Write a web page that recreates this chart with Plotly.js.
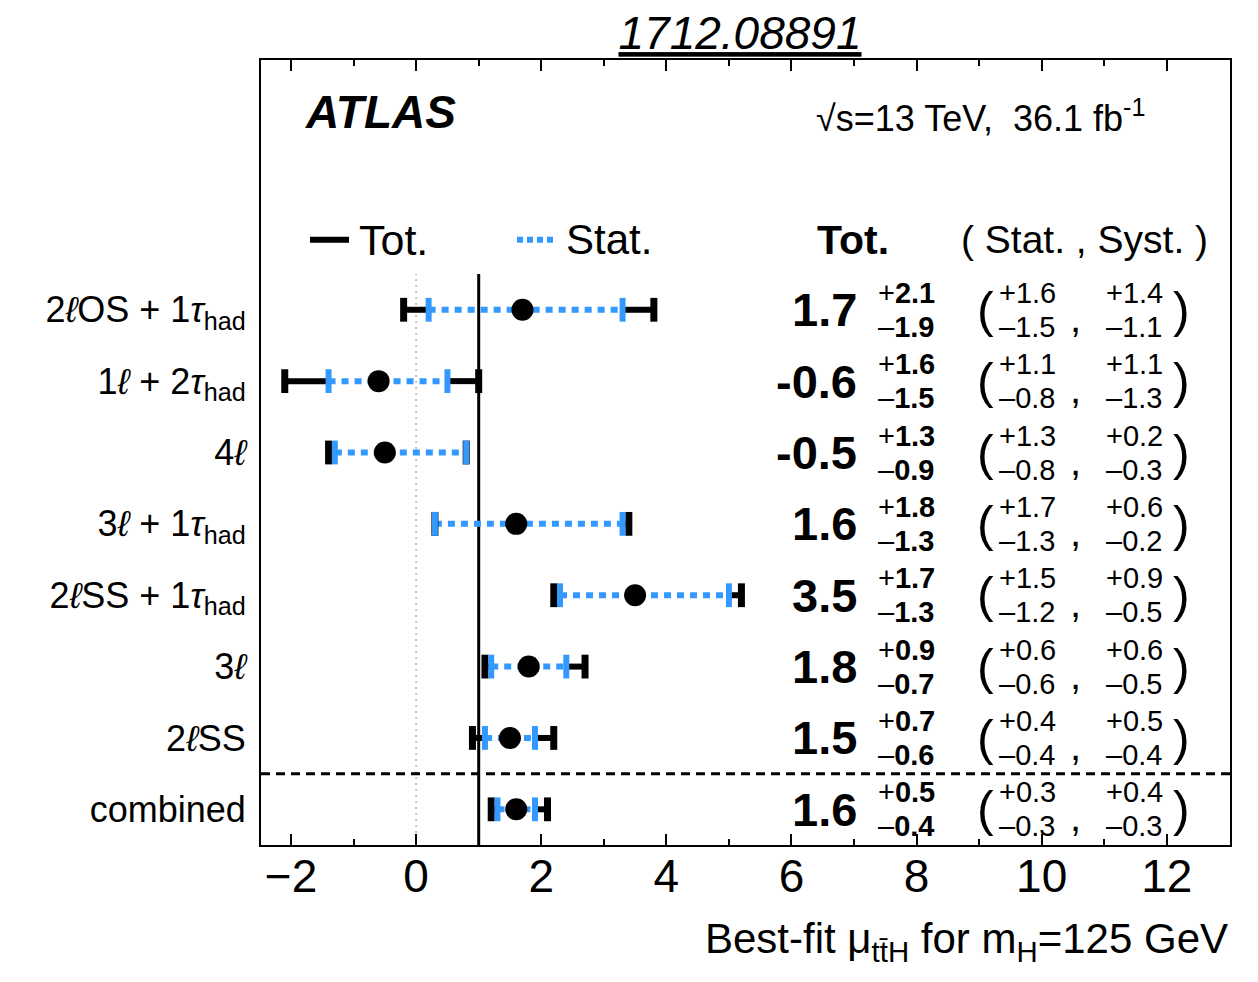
<!DOCTYPE html>
<html>
<head>
<meta charset="utf-8">
<script src="https://cdn.plot.ly/plotly-3.0.1.min.js"></script>
<style>html,body{margin:0;padding:0;background:#fff;}</style>
</head>
<body>
<div id="chart" style="width:1258px;height:982px;"></div>
<script>
const categories = ['2<i>ℓ</i>OS + 1<i>τ</i><sub>had</sub>', '1<i>ℓ</i> + 2<i>τ</i><sub>had</sub>', '4<i>ℓ</i>', '3<i>ℓ</i> + 1<i>τ</i><sub>had</sub>', '2<i>ℓ</i>SS + 1<i>τ</i><sub>had</sub>', '3<i>ℓ</i>', '2<i>ℓ</i>SS', 'combined'];
const mu     = [1.7, -0.6, -0.5, 1.6, 3.5, 1.8, 1.5, 1.6];
const totUp  = [2.1, 1.6, 1.3, 1.8, 1.7, 0.9, 0.7, 0.5];
const totDn  = [1.9, 1.5, 0.9, 1.3, 1.3, 0.7, 0.6, 0.4];
const statUp = [1.6, 1.1, 1.3, 1.7, 1.5, 0.6, 0.4, 0.3];
const statDn = [1.5, 0.8, 0.8, 1.3, 1.2, 0.6, 0.4, 0.3];
const systUp = [1.4, 1.1, 0.2, 0.6, 0.9, 0.6, 0.5, 0.4];
const systDn = [1.1, 1.3, 0.3, 0.2, 0.5, 0.5, 0.4, 0.3];
const xTickVals = [-2, 0, 2, 4, 6, 8, 10, 12];
const smValue = 1;

const BLUE = '#3399ff';
const FONT = 'Liberation Sans, Arial, Helvetica, sans-serif';
const n = categories.length;
const rowY = categories.map((c, i) => n - 1 - i);

// Total error segments (outside stat range)
const totX = [], totY = [], statX = [], statY = [];
const totCapX = [], totCapY = [], statCapX = [], statCapY = [];
for (let i = 0; i < n; i++) {
  const r = rowY[i];
  totX.push(mu[i] - totDn[i], mu[i] - statDn[i], null, mu[i] + statUp[i], mu[i] + totUp[i], null);
  totY.push(r, r, null, r, r, null);
  statX.push(mu[i] - statDn[i], mu[i] + statUp[i], null);
  statY.push(r, r, null);
  totCapX.push(mu[i] - totDn[i], mu[i] + totUp[i]);
  totCapY.push(r, r);
  statCapX.push(mu[i] - statDn[i], mu[i] + statUp[i]);
  statCapY.push(r, r);
}

const traces = [
  {type: 'scatter', mode: 'lines', x: totX, y: totY, line: {color: 'black', width: 6}, hoverinfo: 'skip', showlegend: false, connectgaps: false},
  {type: 'scatter', mode: 'lines', x: statX, y: statY, line: {color: BLUE, width: 6, dash: '7px,6px'}, hoverinfo: 'skip', showlegend: false, connectgaps: false},
  {type: 'scatter', mode: 'markers', x: totCapX, y: totCapY, marker: {symbol: 'line-ns', size: 17, color: 'black', line: {color: 'black', width: 7}}, hoverinfo: 'skip', showlegend: false},
  {type: 'scatter', mode: 'markers', x: statCapX, y: statCapY, marker: {symbol: 'line-ns', size: 17, color: BLUE, line: {color: BLUE, width: 6}}, hoverinfo: 'skip', showlegend: false},
  {type: 'scatter', mode: 'markers', x: mu, y: rowY, marker: {symbol: 'circle', size: 22, color: 'black'}, showlegend: false}
];

const px = p => (p - 261) / 969;   // pixel -> paper x
const py = p => (845 - p) / 785;   // pixel -> paper y
const fmtPlain = v => v.toFixed(1);

const ann = [];
for (let i = 0; i < n; i++) {
  const r = rowY[i];
  ann.push({xref: 'paper', yref: 'y', x: px(859), y: r, xanchor: 'right', yanchor: 'middle', showarrow: false,
    text: '<b>' + fmtPlain(mu[i]) + '</b>', font: {family: FONT, size: 47, color: 'black'}});
  ann.push({xref: 'paper', yref: 'y', x: px(876), y: r, yshift: 17, xanchor: 'left', yanchor: 'middle', showarrow: false,
    text: '+<b>' + fmtPlain(totUp[i]) + '</b>', font: {family: FONT, size: 29, color: 'black'}});
  ann.push({xref: 'paper', yref: 'y', x: px(876), y: r, yshift: -17, xanchor: 'left', yanchor: 'middle', showarrow: false,
    text: '\u2013<b>' + fmtPlain(totDn[i]) + '</b>', font: {family: FONT, size: 29, color: 'black'}});
  ann.push({xref: 'paper', yref: 'y', x: px(985), y: r, xanchor: 'center', yanchor: 'middle', showarrow: false,
    text: '(', font: {family: FONT, size: 50, color: 'black'}});
  ann.push({xref: 'paper', yref: 'y', x: px(997), y: r, yshift: 17, xanchor: 'left', yanchor: 'middle', showarrow: false,
    text: '+' + fmtPlain(statUp[i]), font: {family: FONT, size: 29, color: 'black'}});
  ann.push({xref: 'paper', yref: 'y', x: px(997), y: r, yshift: -17, xanchor: 'left', yanchor: 'middle', showarrow: false,
    text: '\u2013' + fmtPlain(statDn[i]), font: {family: FONT, size: 29, color: 'black'}});
  ann.push({xref: 'paper', yref: 'y', x: px(1075), y: r, yshift: -8, xanchor: 'center', yanchor: 'middle', showarrow: false,
    text: ',', font: {family: FONT, size: 40, color: 'black'}});
  ann.push({xref: 'paper', yref: 'y', x: px(1104), y: r, yshift: 17, xanchor: 'left', yanchor: 'middle', showarrow: false,
    text: '+' + fmtPlain(systUp[i]), font: {family: FONT, size: 29, color: 'black'}});
  ann.push({xref: 'paper', yref: 'y', x: px(1104), y: r, yshift: -17, xanchor: 'left', yanchor: 'middle', showarrow: false,
    text: '\u2013' + fmtPlain(systDn[i]), font: {family: FONT, size: 29, color: 'black'}});
  ann.push({xref: 'paper', yref: 'y', x: px(1181), y: r, xanchor: 'center', yanchor: 'middle', showarrow: false,
    text: ')', font: {family: FONT, size: 50, color: 'black'}});
}
const headerY = 7.98;
ann.push({xref: 'paper', yref: 'y', x: px(853), y: headerY, xanchor: 'center', yanchor: 'middle', showarrow: false,
  text: '<b>Tot.</b>', font: {family: FONT, size: 41, color: 'black'}});
ann.push({xref: 'paper', yref: 'y', x: px(1084), y: headerY, xanchor: 'center', yanchor: 'middle', showarrow: false,
  text: '( Stat. , Syst. )', font: {family: FONT, size: 39, color: 'black'}});
ann.push({xref: 'paper', yref: 'y', x: px(357), y: headerY, xanchor: 'left', yanchor: 'middle', showarrow: false,
  text: 'Tot.', font: {family: FONT, size: 43, color: 'black'}});
ann.push({xref: 'paper', yref: 'y', x: px(564), y: headerY, xanchor: 'left', yanchor: 'middle', showarrow: false,
  text: 'Stat.', font: {family: FONT, size: 42, color: 'black'}});
ann.push({xref: 'paper', yref: 'paper', x: px(303), y: py(112), xanchor: 'left', yanchor: 'middle', showarrow: false,
  text: '<b><i>ATLAS</i></b>', font: {family: FONT, size: 46, color: 'black'}});
ann.push({xref: 'paper', yref: 'paper', x: px(814), y: py(116), xanchor: 'left', yanchor: 'middle', showarrow: false,
  text: '√s=13 TeV,  36.1 fb<sup>-1</sup>', font: {family: FONT, size: 36, color: 'black'}});
ann.push({xref: 'paper', yref: 'paper', x: 1, y: py(941), xanchor: 'right', yanchor: 'middle', showarrow: false,
  text: 'Best-fit μ<sub>tt\u0304H</sub> for m<sub>H</sub>=125 GeV', font: {family: FONT, size: 42, color: 'black'}});

const shapes = [
  {type: 'line', xref: 'x', yref: 'y', x0: 0, x1: 0, y0: -0.5, y1: 7.5, layer: 'below', line: {color: '#c4c4c4', width: 2, dash: '2px,4px'}},
  {type: 'line', xref: 'x', yref: 'y', x0: smValue, x1: smValue, y0: -0.5, y1: 7.5, layer: 'below', line: {color: 'black', width: 3}},
  {type: 'line', xref: 'paper', yref: 'y', x0: 0, x1: 1, y0: 0.5, y1: 0.5, layer: 'above', line: {color: 'black', width: 3, dash: '9px,6px'}},
  {type: 'line', xref: 'paper', yref: 'y', x0: px(310), x1: px(349), y0: headerY, y1: headerY, line: {color: 'black', width: 6}},
  {type: 'line', xref: 'paper', yref: 'y', x0: px(517), x1: px(554), y0: headerY, y1: headerY, line: {color: BLUE, width: 6, dash: '6px,4px'}}
];

const layout = {
  width: 1258, height: 982,
  margin: {l: 261, r: 28, t: 60, b: 137},
  paper_bgcolor: 'white', plot_bgcolor: 'white',
  font: {family: FONT, color: 'black'},
  title: {text: '<i><u>1712.08891</u></i>', x: 740 / 1258, xanchor: 'center', xref: 'container', y: 1 - 33 / 982, yanchor: 'middle', yref: 'container',
    font: {family: FONT, size: 46, color: 'black'}},
  showlegend: false,
  xaxis: {
    range: [-2.48, 13.01], tickvals: xTickVals, ticks: 'inside', ticklen: 11, tickwidth: 2, tickcolor: 'black',
    minor: {dtick: 1, tick0: 0, ticks: 'inside', ticklen: 6, tickwidth: 2, tickcolor: 'black'},
    showline: true, linewidth: 2, linecolor: 'black', mirror: 'ticks', showgrid: false, zeroline: false,
    ticklabelstandoff: -10,
    tickfont: {family: FONT, size: 46, color: 'black'}
  },
  yaxis: {
    range: [-0.5, 10.5], tickvals: rowY, ticktext: categories, ticks: '', showline: true, linewidth: 2, linecolor: 'black',
    mirror: true, showgrid: false, zeroline: false, ticklabelstandoff: 6,
    tickfont: {family: FONT, size: 36, color: 'black'}
  },
  shapes: shapes,
  annotations: ann
};

Plotly.newPlot('chart', traces, layout, {staticPlot: true, displayModeBar: false});
</script>
</body>
</html>
